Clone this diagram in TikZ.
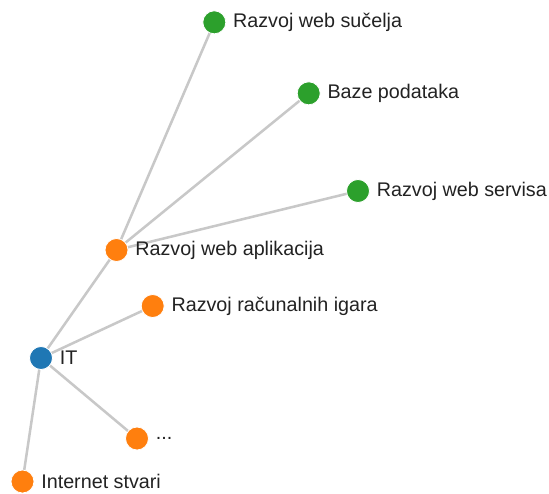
\documentclass[tikz,border=0pt]{standalone}
\usepackage{fontspec}
\setmainfont{Liberation Sans}
\usetikzlibrary{backgrounds}
\definecolor{itblue}{HTML}{1F77B4}
\definecolor{itorange}{HTML}{FF7F0E}
\definecolor{itgreen}{HTML}{2CA02C}
\definecolor{linkgray}{HTML}{C8C8C8}
\definecolor{textdark}{HTML}{222222}

\begin{document}
\begin{tikzpicture}[x=0.75pt,y=-0.75pt,
                    dot/.style={circle,inner sep=0pt,minimum size=17.25pt,draw=white,line width=0.6pt},
                    root/.style={dot,fill=itblue},
                    mid/.style={dot,fill=itorange},
                    leaf/.style={dot,fill=itgreen},
                    link/.style={draw=linkgray,line width=1.9pt},
                    every label/.style={inner sep=0pt,text=textdark,font=\fontsize{14.8}{17}\selectfont},
                    label distance=5pt]
    \useasboundingbox (0,0) rectangle (549,493);
    \node[root,label=right:IT] (it) at (41,358) {};
    \node[mid,label=right:Razvoj web aplikacija] (webapp) at (116.5,250) {};
    \node[mid,label=right:Razvoj računalnih igara] (games) at (152.7,306) {};
    \node[mid,label=right:...] (more) at (137,438.5) {};
    \node[mid,label=right:Internet stvari] (iot) at (22.5,481.5) {};
    \node[leaf,label=right:Razvoj web sučelja] (frontend) at (214.3,22.3) {};
    \node[leaf,label=right:Baze podataka] (db) at (308.7,93.3) {};
    \node[leaf,label=right:Razvoj web servisa] (services) at (358,191) {};
    \begin{pgfonlayer}{background}
        \foreach \child in {webapp,games,more,iot}
            \draw[link] (it.center) -- (\child.center);
        \foreach \child in {frontend,db,services}
            \draw[link] (webapp.center) -- (\child.center);
    \end{pgfonlayer}
\end{tikzpicture}
\end{document}
